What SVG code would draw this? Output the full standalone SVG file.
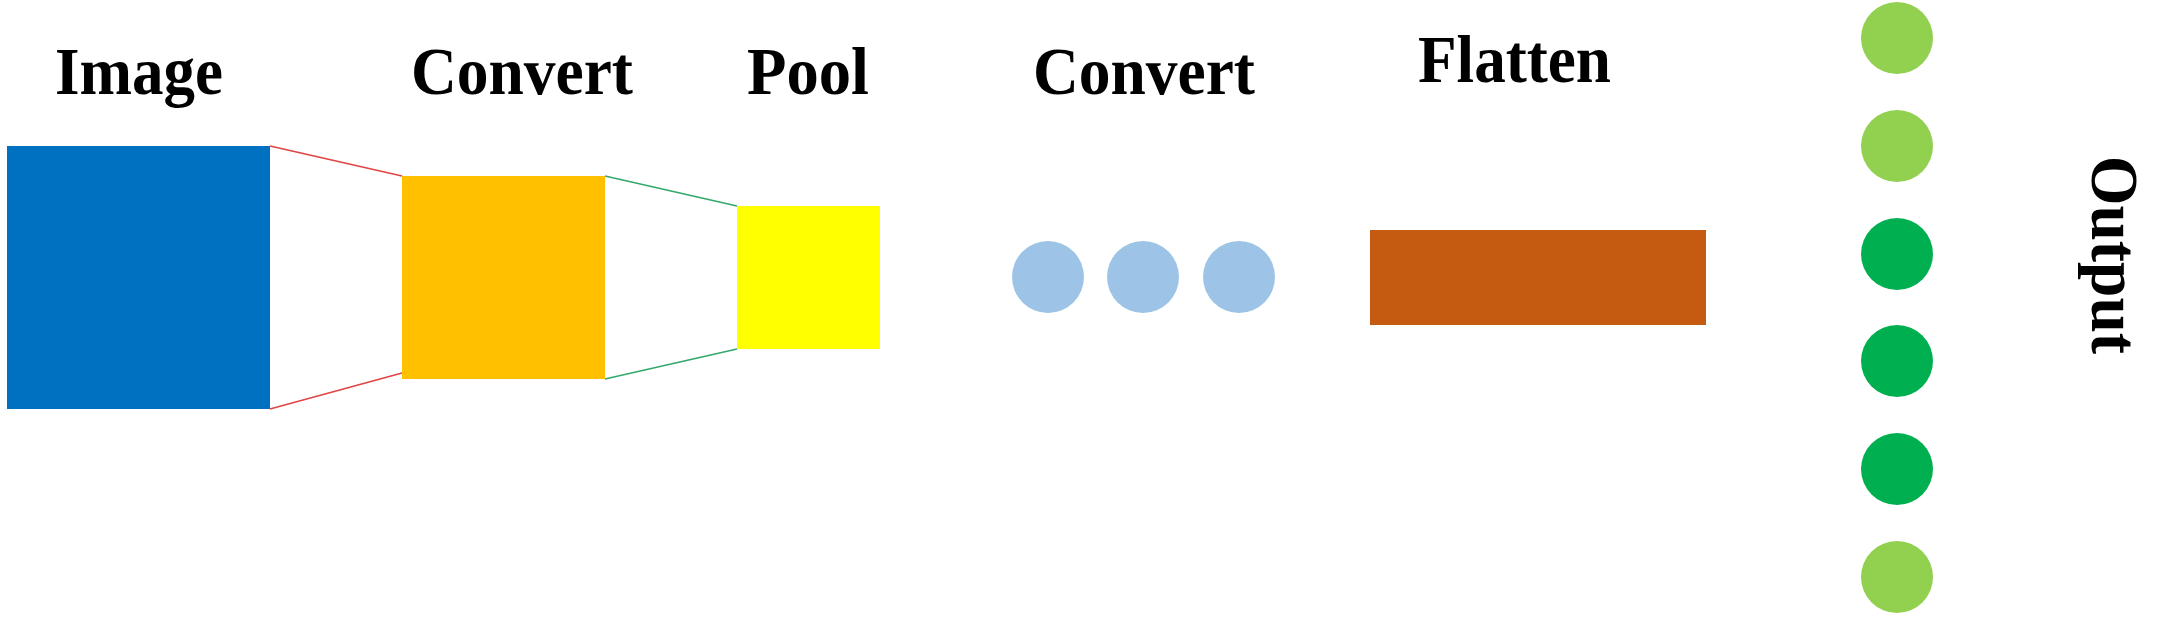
<svg xmlns="http://www.w3.org/2000/svg" width="2169" height="620" viewBox="0 0 2169 620">
  <style>
    .lbl { font-family: "Liberation Serif", "Times New Roman", serif; font-weight: bold; font-size: 67px; fill: #000000; }
    .conn-red { stroke: #E04444; stroke-width: 1.6; fill: none; }
    .conn-green { stroke: #33A86C; stroke-width: 1.6; fill: none; }
    .lg { fill: #92D050; }
    .dg { fill: #00B050; }
    .lb { fill: #9DC3E6; }
  </style>
  <rect x="0" y="0" width="2169" height="620" fill="#FFFFFF"/>

  <g id="connectors">
    <line class="conn-red" x1="270" y1="146" x2="402" y2="176"/>
    <line class="conn-red" x1="270" y1="409" x2="402" y2="373"/>
    <line class="conn-green" x1="605" y1="176" x2="737" y2="206"/>
    <line class="conn-green" x1="605" y1="379" x2="737" y2="349"/>
  </g>

  <g id="image">
    <rect x="7" y="146" width="263" height="263" fill="#0070C0"/>
    <text class="lbl" x="55" y="94" textLength="168" lengthAdjust="spacingAndGlyphs">Image</text>
  </g>

  <g id="convert1">
    <rect x="402" y="176" width="203" height="203" fill="#FFC000"/>
    <text class="lbl" x="411" y="94" textLength="222" lengthAdjust="spacingAndGlyphs">Convert</text>
  </g>

  <g id="pool">
    <rect x="737" y="206" width="143" height="143" fill="#FFFF00"/>
    <text class="lbl" x="747" y="94" textLength="122" lengthAdjust="spacingAndGlyphs">Pool</text>
  </g>

  <g id="convert2">
    <circle class="lb" cx="1048" cy="277" r="36"/>
    <circle class="lb" cx="1143" cy="277" r="36"/>
    <circle class="lb" cx="1239" cy="277" r="36"/>
    <text class="lbl" x="1033" y="94" textLength="222" lengthAdjust="spacingAndGlyphs">Convert</text>
  </g>

  <g id="flatten">
    <rect x="1370" y="230" width="336" height="95" fill="#C55A11"/>
    <text class="lbl" x="1418" y="82" textLength="193" lengthAdjust="spacingAndGlyphs">Flatten</text>
  </g>

  <g id="output">
    <circle class="lg" cx="1897" cy="38" r="36"/>
    <circle class="lg" cx="1897" cy="146" r="36"/>
    <circle class="dg" cx="1897" cy="254" r="36"/>
    <circle class="dg" cx="1897" cy="361" r="36"/>
    <circle class="dg" cx="1897" cy="469" r="36"/>
    <circle class="lg" cx="1897" cy="577" r="36"/>
    <text class="lbl" transform="translate(2092,156) rotate(90)" x="0" y="0" textLength="198" lengthAdjust="spacingAndGlyphs">Output</text>
  </g>
</svg>
